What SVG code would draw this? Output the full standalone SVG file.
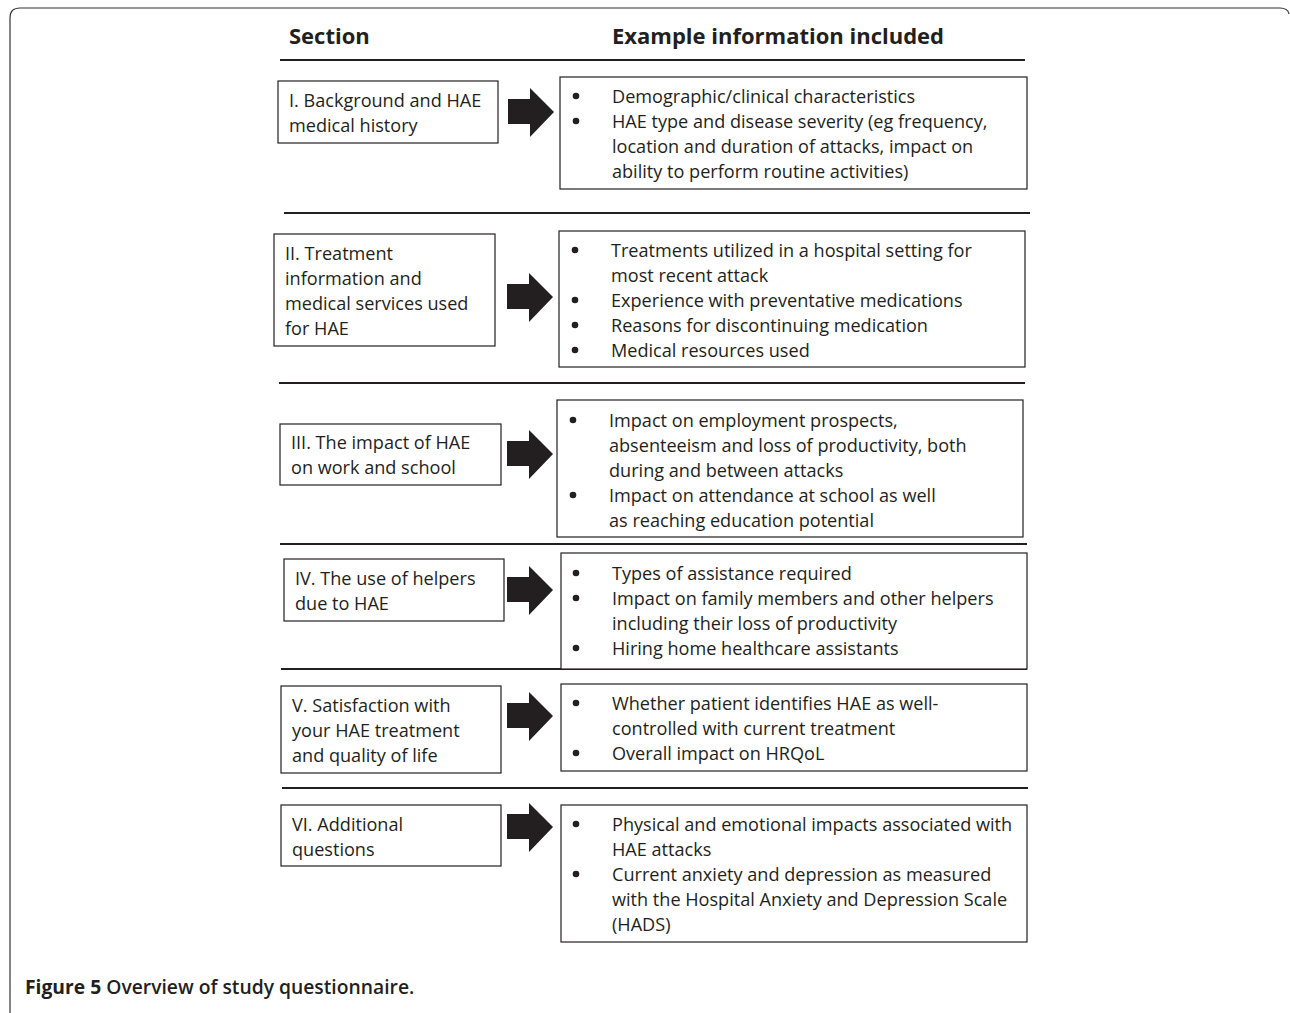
<svg xmlns="http://www.w3.org/2000/svg" width="1290" height="1013" viewBox="0 0 1290 1013">
<defs>
<style>
.t{font-family:"Open Sans","Liberation Sans",sans-serif;font-size:18.1px;fill:#231f20}
.h{font-family:"Open Sans","Liberation Sans",sans-serif;font-size:22px;font-weight:700;fill:#231f20}
.cap{font-family:"Open Sans","Liberation Sans",sans-serif;font-size:19.3px;font-weight:600;fill:#231f20}
.box{fill:#fff;stroke:#231f20;stroke-width:1.2}
.sep{stroke:#231f20;stroke-width:2}
.b{fill:#231f20}
</style>
<path id="arr" d="M0,-13 H22 V-24 L46,0 L22,25 V12 H0 Z" fill="#231f20"/>
</defs>
<rect width="1290" height="1013" fill="#fff"/>
<path d="M10,1013 V18 Q10,8 20,8 H1280 Q1288,8 1289,14" fill="none" stroke="#333" stroke-width="1.2"/>

<text class="h" x="289" y="44">Section</text>
<text class="h" x="612" y="44">Example information included</text>

<g id="separators">
<line class="sep" x1="280" y1="60" x2="1025" y2="60"/>
<line class="sep" x1="284" y1="213" x2="1030" y2="213"/>
<line class="sep" x1="279" y1="383" x2="1025" y2="383"/>
<line class="sep" x1="280" y1="544" x2="1027" y2="544"/>
<line class="sep" x1="281" y1="669" x2="1027" y2="669"/>
<line class="sep" x1="282" y1="788" x2="1028" y2="788"/>
</g>

<g id="connectors">
<use href="#arr" x="508" y="112"/>
<use href="#arr" x="507" y="297"/>
<use href="#arr" x="507" y="454"/>
<use href="#arr" x="507" y="590"/>
<use href="#arr" x="507" y="716"/>
<use href="#arr" x="507" y="827"/>
</g>

<g id="s1">
<rect class="box" x="278" y="81" width="220" height="62"/>
<text class="t" x="289" y="106.5">I. Background and HAE</text>
<text class="t" x="289" y="131.5">medical history</text>
</g>
<g id="e1">
<rect class="box" x="560" y="77" width="467" height="112"/>
<circle class="b" cx="576" cy="96" r="3.3"/>
<circle class="b" cx="576" cy="121" r="3.3"/>
<text class="t" x="612" y="102.5">Demographic/clinical characteristics</text>
<text class="t" x="612" y="127.5">HAE type and disease severity (eg frequency,</text>
<text class="t" x="612" y="152.5">location and duration of attacks, impact on</text>
<text class="t" x="612" y="177.5">ability to perform routine activities)</text>
</g>

<g id="s2">
<rect class="box" x="274" y="234" width="221" height="112"/>
<text class="t" x="285" y="259.5">II. Treatment</text>
<text class="t" x="285" y="284.5">information and</text>
<text class="t" x="285" y="309.5">medical services used</text>
<text class="t" x="285" y="334.5">for HAE</text>
</g>
<g id="e2">
<rect class="box" x="559" y="231" width="466" height="136"/>
<circle class="b" cx="575" cy="250" r="3.3"/>
<circle class="b" cx="575" cy="300" r="3.3"/>
<circle class="b" cx="575" cy="325" r="3.3"/>
<circle class="b" cx="575" cy="350" r="3.3"/>
<text class="t" x="611" y="256.5">Treatments utilized in a hospital setting for</text>
<text class="t" x="611" y="281.5">most recent attack</text>
<text class="t" x="611" y="306.5">Experience with preventative medications</text>
<text class="t" x="611" y="331.5">Reasons for discontinuing medication</text>
<text class="t" x="611" y="356.5">Medical resources used</text>
</g>

<g id="s3">
<rect class="box" x="280" y="424" width="221" height="61"/>
<text class="t" x="291" y="448.5">III. The impact of HAE</text>
<text class="t" x="291" y="473.5">on work and school</text>
</g>
<g id="e3">
<rect class="box" x="557" y="400" width="466" height="137"/>
<circle class="b" cx="573" cy="420" r="3.3"/>
<circle class="b" cx="573" cy="495" r="3.3"/>
<text class="t" x="609" y="426.5">Impact on employment prospects,</text>
<text class="t" x="609" y="451.5">absenteeism and loss of productivity, both</text>
<text class="t" x="609" y="476.5">during and between attacks</text>
<text class="t" x="609" y="501.5">Impact on attendance at school as well</text>
<text class="t" x="609" y="526.5">as reaching education potential</text>
</g>

<g id="s4">
<rect class="box" x="284" y="559" width="220" height="62"/>
<text class="t" x="295" y="584.5">IV. The use of helpers</text>
<text class="t" x="295" y="609.5">due to HAE</text>
</g>
<g id="e4">
<rect class="box" x="561" y="553" width="466" height="116"/>
<circle class="b" cx="576" cy="573" r="3.3"/>
<circle class="b" cx="576" cy="598" r="3.3"/>
<circle class="b" cx="576" cy="648" r="3.3"/>
<text class="t" x="612" y="579.5">Types of assistance required</text>
<text class="t" x="612" y="604.5">Impact on family members and other helpers</text>
<text class="t" x="612" y="629.5">including their loss of productivity</text>
<text class="t" x="612" y="654.5">Hiring home healthcare assistants</text>
</g>

<g id="s5">
<rect class="box" x="281" y="686" width="220" height="87"/>
<text class="t" x="292" y="711.5">V. Satisfaction with</text>
<text class="t" x="292" y="736.5">your HAE treatment</text>
<text class="t" x="292" y="761.5">and quality of life</text>
</g>
<g id="e5">
<rect class="box" x="561" y="684" width="466" height="87"/>
<circle class="b" cx="576" cy="703" r="3.3"/>
<circle class="b" cx="576" cy="753" r="3.3"/>
<text class="t" x="612" y="709.5">Whether patient identifies HAE as well-</text>
<text class="t" x="612" y="734.5">controlled with current treatment</text>
<text class="t" x="612" y="759.5">Overall impact on HRQoL</text>
</g>

<g id="s6">
<rect class="box" x="281" y="805" width="220" height="61"/>
<text class="t" x="292" y="830.5">VI. Additional</text>
<text class="t" x="292" y="855.5">questions</text>
</g>
<g id="e6">
<rect class="box" x="561" y="805" width="466" height="137"/>
<circle class="b" cx="576" cy="824" r="3.3"/>
<circle class="b" cx="576" cy="874" r="3.3"/>
<text class="t" x="612" y="830.5">Physical and emotional impacts associated with</text>
<text class="t" x="612" y="855.5">HAE attacks</text>
<text class="t" x="612" y="880.5">Current anxiety and depression as measured</text>
<text class="t" x="612" y="905.5">with the Hospital Anxiety and Depression Scale</text>
<text class="t" x="612" y="930.5">(HADS)</text>
</g>

<text class="cap" x="25" y="994"><tspan font-weight="700">Figure 5</tspan> Overview of study questionnaire.</text>
</svg>
